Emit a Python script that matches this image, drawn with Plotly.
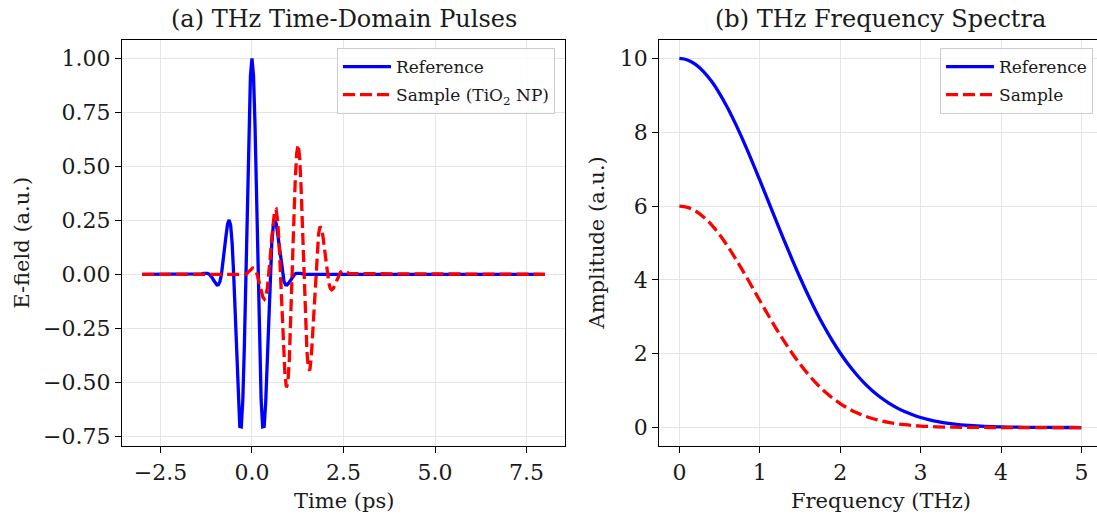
import plotly.graph_objects as go

# ---------------- data ----------------
time_ref = [-3.0,
            -1.458, -1.417, -1.375, -1.333, -1.292, -1.25, -1.208, -1.167, -1.125, -1.083, -1.042, -1.0,
            -0.958, -0.917, -0.875, -0.833, -0.792, -0.75, -0.708, -0.667, -0.625, -0.583, -0.542, -0.5,
            -0.458, -0.417, -0.375, -0.333, -0.292, -0.25, -0.208, -0.167, -0.125, -0.083, -0.042,
            0.0,
            0.042, 0.083, 0.125, 0.167, 0.208, 0.25, 0.292, 0.333, 0.375, 0.417, 0.458, 0.5,
            0.542, 0.583, 0.625, 0.667, 0.708, 0.75, 0.792, 0.833, 0.875, 0.917, 0.958, 1.0,
            1.042, 1.083, 1.125, 1.167, 1.208, 1.25, 1.292, 1.333, 1.375, 1.417, 1.458,
            8.0]
efield_ref = [0.0,
              0.000, 0.001, 0.002, 0.004, 0.005, 0.005, 0.004, 0.000, -0.007, -0.017, -0.029, -0.041,
              -0.049, -0.048, -0.033, 0.000, 0.050, 0.114, 0.180, 0.232, 0.252, 0.228, 0.145, 0.000,
              -0.198, -0.409, -0.594, -0.705, -0.707, -0.581, -0.334, 0.000, 0.364, 0.692, 0.919,
              1.000,
              0.919, 0.692, 0.364, 0.000, -0.334, -0.581, -0.707, -0.705, -0.594, -0.409, -0.198, 0.000,
              0.145, 0.228, 0.252, 0.232, 0.180, 0.114, 0.050, 0.000, -0.033, -0.048, -0.049, -0.041,
              -0.029, -0.017, -0.007, 0.000, 0.004, 0.005, 0.005, 0.004, 0.002, 0.001, 0.000,
              0.0]

time_sam = [-3.0,
            -0.18, -0.14, -0.10, -0.06, -0.02, 0.02, 0.06, 0.10, 0.14, 0.18, 0.22, 0.26,
            0.30, 0.34, 0.38, 0.42, 0.46, 0.50, 0.54, 0.58, 0.62, 0.66, 0.70, 0.74,
            0.78, 0.82, 0.86, 0.90, 0.94, 0.98, 1.02, 1.06, 1.10, 1.14, 1.18, 1.22,
            1.26, 1.30, 1.34, 1.38, 1.42, 1.46, 1.50, 1.54, 1.58, 1.62, 1.66, 1.70,
            1.74, 1.78, 1.82, 1.86, 1.90, 1.94, 1.98, 2.02, 2.06, 2.10, 2.14, 2.18,
            2.22, 2.26, 2.30, 2.34, 2.38, 2.42, 2.46, 2.50, 2.54, 2.58, 2.62, 2.66,
            8.0]
efield_sam = [0.0,
              0.000, 0.005, 0.012, 0.019, 0.025, 0.029, 0.027, 0.018, 0.000, -0.025, -0.055, -0.085,
              -0.107, -0.115, -0.102, -0.063, 0.000, 0.081, 0.169, 0.246, 0.295, 0.300, 0.251, 0.148,
              0.000, -0.170, -0.334, -0.461, -0.524, -0.504, -0.399, -0.222, 0.000, 0.230, 0.427, 0.559,
              0.600, 0.547, 0.410, 0.216, 0.000, -0.201, -0.353, -0.437, -0.445, -0.384, -0.272, -0.136,
              0.000, 0.113, 0.188, 0.221, 0.213, 0.174, 0.117, 0.055, 0.000, -0.041, -0.065, -0.072,
              -0.066, -0.051, -0.032, -0.015, 0.000, 0.010, 0.015, 0.015, 0.013, 0.010, 0.006, 0.003,
              0.0]

freq = [0.0, 0.1, 0.2, 0.3, 0.4, 0.5, 0.6, 0.7, 0.8, 0.9,
        1.0, 1.1, 1.2, 1.3, 1.4, 1.5, 1.6, 1.7, 1.8, 1.9,
        2.0, 2.1, 2.2, 2.3, 2.4, 2.5, 2.6, 2.7, 2.8, 2.9,
        3.0, 3.1, 3.2, 3.3, 3.4, 3.5, 3.6, 3.7, 3.8, 3.9,
        4.0, 4.1, 4.2, 4.3, 4.4, 4.5, 4.6, 4.7, 4.8, 4.9, 5.0]
amp_ref = [10.0, 9.960, 9.841, 9.646, 9.380, 9.048, 8.659, 8.220, 7.741, 7.233,
           6.703, 6.163, 5.621, 5.086, 4.566, 4.066, 3.592, 3.147, 2.736, 2.360,
           2.019, 1.714, 1.443, 1.205, 0.999, 0.821, 0.669, 0.541, 0.434, 0.346,
           0.273, 0.214, 0.166, 0.128, 0.098, 0.074, 0.056, 0.042, 0.031, 0.023,
           0.017, 0.012, 0.009, 0.006, 0.004, 0.003, 0.002, 0.001, 0.001, 0.001, 0.000]
amp_sam = [6.0, 5.967, 5.868, 5.707, 5.490, 5.222, 4.912, 4.570, 4.205, 3.826,
           3.442, 3.062, 2.696, 2.347, 2.020, 1.719, 1.446, 1.204, 0.992, 0.808,
           0.651, 0.518, 0.408, 0.318, 0.245, 0.186, 0.140, 0.105, 0.077, 0.056,
           0.040, 0.029, 0.020, 0.014, 0.010, 0.007, 0.005, 0.003, 0.002, 0.001,
           0.001, 0.000, 0.000, 0.000, 0.000, 0.000, 0.000, 0.000, 0.000, 0.000, 0.000]

left_xticks = [-2.5, 0.0, 2.5, 5.0, 7.5]
left_yticks = [-0.75, -0.5, -0.25, 0.0, 0.25, 0.5, 0.75, 1.0]
right_xticks = [0, 1, 2, 3, 4, 5]
right_yticks = [0, 2, 4, 6, 8, 10]

# ---------------- styling ----------------
FONT = "DejaVu Serif"
TXT = "#1a1a1a"
BLUE = "#0000ff"
RED = "#ff0000"
LW = 3.3
DASH = "12px,5px"
GRID = "#e5e5e5"

fig = go.Figure()

fig.add_trace(go.Scatter(x=time_ref, y=efield_ref, mode="lines", name="Reference",
                         line=dict(color=BLUE, width=LW), xaxis="x", yaxis="y",
                         legend="legend", legendgroup="a1"))
fig.add_trace(go.Scatter(x=time_sam, y=efield_sam, mode="lines", name="Sample (TiO<sub>2</sub> NP)",
                         line=dict(color=RED, width=LW, dash=DASH), xaxis="x", yaxis="y",
                         legend="legend", legendgroup="a2"))
fig.add_trace(go.Scatter(x=freq, y=amp_ref, mode="lines", name="Reference",
                         line=dict(color=BLUE, width=LW, shape="spline", smoothing=1.0),
                         xaxis="x2", yaxis="y2", legend="legend2", legendgroup="b1"))
fig.add_trace(go.Scatter(x=freq, y=amp_sam, mode="lines", name="Sample",
                         line=dict(color=RED, width=LW, dash=DASH, shape="spline", smoothing=1.0),
                         xaxis="x2", yaxis="y2", legend="legend2", legendgroup="b2"))

W, H = 1097, 517
ytop, ybot = 40, 446
ydom = [1 - ybot / H, 1 - ytop / H]
xdom1 = [122 / W, 565 / W]
xdom2 = [659.3 / W, 1.0]

axis_common = dict(showgrid=True, gridcolor=GRID, gridwidth=1.2, zeroline=False,
                   showline=True, linecolor="black", linewidth=1.4, automargin=False,
                   ticks="outside", ticklen=6, tickwidth=1.4, tickcolor="black",
                   tickfont=dict(family=FONT, size=22, color=TXT))

legend_common = dict(yanchor="top", xanchor="right", itemwidth=48,
                     bgcolor="rgba(255,255,255,0.8)", bordercolor="#cccccc", borderwidth=1,
                     font=dict(family=FONT, size=17, color=TXT), tracegroupgap=3)

fig.update_layout(
    width=W, height=H,
    margin=dict(l=0, r=0, t=0, b=0, autoexpand=False),
    paper_bgcolor="white", plot_bgcolor="white",
    font=dict(family=FONT, color=TXT),
    xaxis=dict(domain=xdom1, range=[-3.55, 8.55], tickvals=left_xticks, tickformat=".1f",
               mirror=True, anchor="y", **axis_common),
    yaxis=dict(domain=ydom, range=[-0.7955, 1.0855], tickvals=left_yticks, tickformat=".2f",
               mirror=True, anchor="x", **axis_common),
    xaxis2=dict(domain=xdom2, range=[-0.25, 5.194], tickvals=right_xticks, tickformat="d",
                mirror=True, anchor="y2", **axis_common),
    yaxis2=dict(domain=ydom, range=[-0.5, 10.5], tickvals=right_yticks, tickformat="d",
                mirror=False, anchor="x2", **axis_common),
    legend=dict(x=555 / W, y=1 - 48 / H, **legend_common),
    legend2=dict(x=1093 / W, y=1 - 48 / H, **legend_common),
    showlegend=True,
)

cx1 = (xdom1[0] + xdom1[1]) / 2
cx2 = (659.3 + 1101.8) / 2 / W
title_font = dict(family=FONT, size=24, color=TXT)
label_font = dict(family=FONT, size=21, color=TXT)
annots = [
    dict(text="(a) THz Time-Domain Pulses", x=cx1, y=ydom[1], yshift=5, yanchor="bottom",
         xanchor="center", font=title_font),
    dict(text="(b) THz Frequency Spectra", x=cx2, y=ydom[1], yshift=5, yanchor="bottom",
         xanchor="center", font=title_font),
    dict(text="Time (ps)", x=cx1, y=1 - 501 / H, yanchor="middle", xanchor="center", font=label_font),
    dict(text="Frequency (THz)", x=cx2, y=1 - 501 / H, yanchor="middle", xanchor="center", font=label_font),
    dict(text="E-field (a.u.)", x=21.7 / W, y=(ydom[0] + ydom[1]) / 2, textangle=-90,
         xanchor="center", yanchor="middle", font=label_font),
    dict(text="Amplitude (a.u.)", x=596.5 / W, y=(ydom[0] + ydom[1]) / 2, textangle=-90,
         xanchor="center", yanchor="middle", font=label_font),
]
for a in annots:
    a.update(xref="paper", yref="paper", showarrow=False)
fig.update_layout(annotations=annots)

fig.write_html(
    "out.html",
    config={"displayModeBar": False},
    post_script="document.body.style.margin='0';document.body.style.padding='0';"
                "document.documentElement.style.overflow='hidden';",
)
